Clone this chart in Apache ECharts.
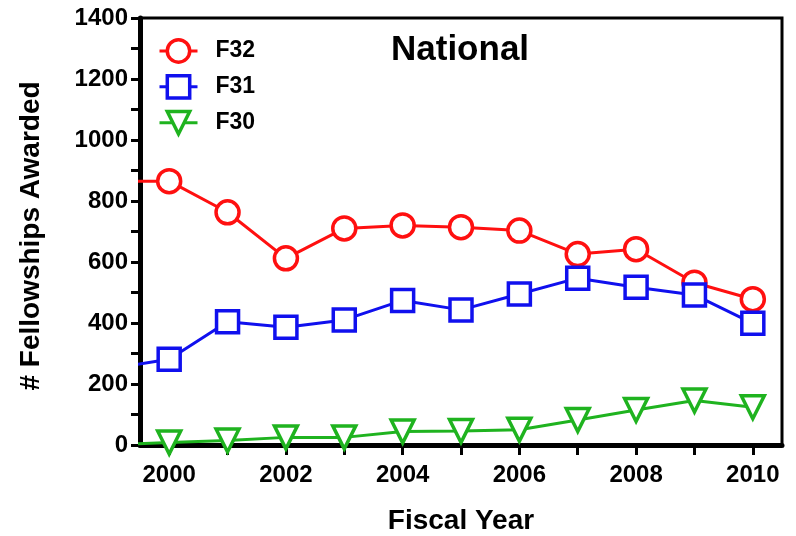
<!DOCTYPE html>
<html>
<head>
<meta charset="utf-8">
<script src="https://cdn.jsdelivr.net/npm/echarts@6/dist/echarts.min.js"></script>
<style>
  html, body { margin: 0; padding: 0; background: #fff; }
  #main { width: 796px; height: 536px; }
</style>
</head>
<body>
<div id="main"></div>
<script>
// fiscal years (1999 only feeds the line segment clipped at the left edge)
const years = [1999, 2000, 2001, 2002, 2003, 2004, 2005, 2006, 2007, 2008, 2009, 2010];
const f32 = [865, 865, 763, 612, 710, 720, 714, 703, 626, 642, 532, 478];
const f31 = [250, 281, 404, 386, 410, 474, 443, 495, 547, 517, 492, 399];
const f30 = [0, 8, 15, 25, 25, 44, 46, 50, 82, 115, 146, 124];

const xTicks = [2000, 2001, 2002, 2003, 2004, 2005, 2006, 2007, 2008, 2009, 2010];
const xLabels = [2000, 2002, 2004, 2006, 2008, 2010];
const yTicks = [0, 100, 200, 300, 400, 500, 600, 700, 800, 900, 1000, 1100, 1200, 1300, 1400];
const yLabels = [0, 200, 400, 600, 800, 1000, 1200, 1400];

const font = 'Liberation Sans, Arial, sans-serif';

function pairs(vals) {
    return years.map((y, i) => [y, vals[i]]);
}

function makeSeries(name, vals, color, symbol, size, rotate) {
    return {
        name: name,
        type: 'line',
        data: pairs(vals),
        symbol: symbol,
        symbolSize: size,
        symbolRotate: rotate || 0,
        showAllSymbol: true,
        clip: true,
        lineStyle: { color: color, width: 3 },
        itemStyle: { color: '#fff', borderColor: color, borderWidth: 3.5 },
        emphasis: { disabled: true }
    };
}

let myChart = echarts.init(document.getElementById('main'));
myChart.setOption({
    backgroundColor: '#fff',
    animation: false,
    title: {
        text: 'National',
        left: 386,
        top: 28,
        textStyle: { fontFamily: font, fontSize: 35, fontWeight: 'bold', color: '#000' }
    },
    legend: {
        orient: 'vertical',
        left: 153,
        top: 33,
        itemWidth: 38,
        itemHeight: 28,
        itemGap: 10,
        itemStyle: { borderWidth: 3.5 },
        lineStyle: { width: 3 },
        textStyle: { fontFamily: font, fontSize: 23, fontWeight: 'bold', color: '#000', padding: [0, 0, 0, 13] },
        data: ['F32', 'F31', 'F30']
    },
    grid: {
        left: 140, right: 14, top: 18, bottom: 91,
        outerBoundsMode: 'none',
        show: true, borderColor: '#000', borderWidth: 3
    },
    xAxis: {
        type: 'value',
        min: 1999.5,
        max: 2010.5,
        name: 'Fiscal Year',
        nameLocation: 'middle',
        nameGap: 62,
        nameTextStyle: { fontFamily: font, fontSize: 28, fontWeight: 'bold', color: '#000' },
        axisLine: { lineStyle: { color: '#000', width: 5 } },
        axisTick: { customValues: xTicks, length: 10, lineStyle: { color: '#000', width: 3 } },
        axisLabel: {
            customValues: xLabels,
            margin: 18,
            formatter: v => String(v),
            fontFamily: font, fontSize: 24, fontWeight: 'bold', color: '#000'
        },
        splitLine: { show: false }
    },
    yAxis: {
        type: 'value',
        min: 0,
        max: 1400,
        interval: 200,
        name: '# Fellowships Awarded',
        nameLocation: 'middle',
        nameRotate: 90,
        nameGap: 95,
        nameTextStyle: { fontFamily: font, fontSize: 28, fontWeight: 'bold', color: '#000', padding: [0, 9, 0, 0] },
        axisLine: { show: true, lineStyle: { color: '#000', width: 5 } },
        axisTick: { show: true, customValues: yTicks, length: 9, lineStyle: { color: '#000', width: 3 } },
        axisLabel: {
            customValues: yLabels,
            margin: 12,
            formatter: v => String(v),
            fontFamily: font, fontSize: 24, fontWeight: 'bold', color: '#000'
        },
        splitLine: { show: false }
    },
    series: [
        makeSeries('F32', f32, '#ff1010', 'circle', 23),
        makeSeries('F31', f31, '#1010ee', 'rect', 22),
        makeSeries('F30', f30, '#1fb31f', 'triangle', 23, 180)
    ]
});
</script>
</body>
</html>
